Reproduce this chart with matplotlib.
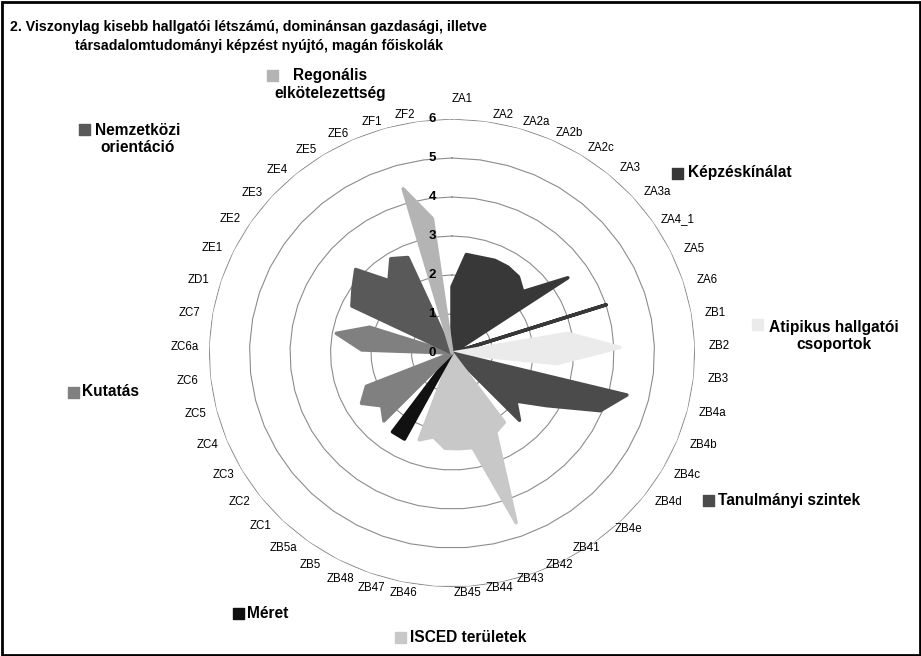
import numpy as np
import matplotlib
matplotlib.use("Agg")
import matplotlib.pyplot as plt
from matplotlib.patches import Rectangle

plt.rcParams['font.family'] = ['Liberation Sans', 'DejaVu Sans']

# ---------------- data ----------------
title_line1 = "2. Viszonylag kisebb hallgatói létszámú, dominánsan gazdasági, illetve"
title_line2 = "társadalomtudományi képzést nyújtó, magán főiskolák"

kepzes_cats = ['ZA1', 'ZA2', 'ZA2a', 'ZA2b', 'ZA2c', 'ZA3', 'ZA3a', 'ZA4_1', 'ZA5', 'ZA6']
kepzes_vals = [1.7, 2.55, 2.55, 2.6, 2.6, 2.55, 2.35, 3.45, 0.0, 4.0]

atip_cats = ['ZB1', 'ZB2', 'ZB3']
atip_vals = [2.9, 4.15, 2.6]

szint_cats = ['ZB4a', 'ZB4b', 'ZB4c', 'ZB4d', 'ZB4e']
szint_vals = [4.45, 3.95, 2.7, 2.0, 2.4]

isced_cats = ['ZB41', 'ZB42', 'ZB43', 'ZB44', 'ZB45', 'ZB46', 'ZB47', 'ZB48']
isced_vals = [2.2, 2.3, 4.63, 2.48, 2.46, 2.45, 2.2, 2.37]

meret_cats = ['ZB5', 'ZB5a']
meret_vals = [2.5, 2.5]

kutatas_cats = ['ZC1', 'ZC2', 'ZC3', 'ZC4', 'ZC5', 'ZC6', 'ZC6a', 'ZC7', 'ZD1']
kutatas_vals = [2.42, 2.2, 2.58, 2.28, 0.0, 0.0, 2.23, 2.9, 2.14]

nemzet_cats = ['ZE1', 'ZE2', 'ZE3', 'ZE4', 'ZE5', 'ZE6']
nemzet_vals = [2.75, 2.95, 3.2, 2.42, 2.85, 2.68]

reg_cats = ['ZF1', 'ZF2']
reg_vals = [4.38, 3.48]

series_names = ['Képzéskínálat', 'Atipikus hallgatói\ncsoportok', 'Tanulmányi szintek',
                'ISCED területek', 'Méret', 'Kutatás', 'Nemzetközi\norientáció',
                'Regonális\nelkötelezettség']
series_cats = [kepzes_cats, atip_cats, szint_cats, isced_cats, meret_cats,
               kutatas_cats, nemzet_cats, reg_cats]
series_vals = [kepzes_vals, atip_vals, szint_vals, isced_vals, meret_vals,
               kutatas_vals, nemzet_vals, reg_vals]
series_colors = ['#383838', '#ebebeb', '#4b4b4b', '#c8c8c8', '#111111',
                 '#808080', '#595959', '#b4b4b4']

ring_ticks = [0, 1, 2, 3, 4, 5, 6]

categories = [c for cats in series_cats for c in cats]
n = len(categories)

# ---------------- layout ----------------
W, H = 921, 656
fig = plt.figure(figsize=(W / 100, H / 100), dpi=100)
cx, cy, rx, ry = 452, 353, 243, 234
ax = fig.add_axes([(cx - rx) / W, (H - cy - ry) / H, 2 * rx / W, 2 * ry / H],
                  projection='polar')
ax.set_aspect('auto')
ax.set_theta_zero_location('N')
ax.set_theta_direction(-1)
ax.set_ylim(0, 6)
ax.set_xticks([])
ax.set_yticks([])
ax.grid(False)
ax.spines['polar'].set_visible(False)
ax.patch.set_visible(False)

theta = np.arange(n) * 2 * np.pi / n
theta_c = np.append(theta, theta[0])

# polygonal grid rings
for k in ring_ticks[1:]:
    ax.plot(theta_c, np.full(n + 1, k), color='#8c8c8c', lw=0.8, zorder=1)

# series
for cats, vals, col in zip(series_cats, series_vals, series_colors):
    full = np.zeros(n)
    for c, v in zip(cats, vals):
        full[categories.index(c)] = v
    ax.fill(theta_c, np.append(full, full[0]), facecolor=col, edgecolor=col,
            lw=2.5, joinstyle='round', zorder=2)

# ring value labels
for k in ring_ticks:
    ax.annotate(str(k), xy=(0, k), xytext=(-20 * 0.72, 0), textcoords='offset points',
                ha='center', va='center', fontsize=9.5, fontweight='bold', zorder=5)

# category label placement rule (angular nudge and radial distance, as in the original)
lab_ang = [0, 8, 24, 48, 80, 112, 128, 144, 160, 176, 184, 200, 216, 240, 272, 296, 320, 344, 352, 360]
lab_dlt = [2.2, 3.7, 3.2, 2.8, 1.0, -1.2, -2.4, 2.3, 1.6, 0.5, 7.0, 5.5, 3.8, 1.0, -0.6, -1.6,
           -2.6, -2.4, -2.8, 2.2]
lab_rad = [1.086, 1.038, 1.058, 1.089, 1.096, 1.105, 1.094, 1.0, 1.018, 1.028, 1.045, 1.07,
           1.085, 1.077, 1.099, 1.085, 1.063, 1.04, 1.035, 1.086]
for i, cat in enumerate(categories):
    deg = np.degrees(theta[i])
    d = np.interp(deg, lab_ang, lab_dlt)
    rn = np.interp(deg, lab_ang, lab_rad)
    ax.text(np.radians(deg + d), 6 * rn, cat, ha='center', va='center',
            fontsize=8.3, zorder=5)

# legend-like group labels placed around the chart (pixel positions)
leg_layout = {
    'Képzéskínálat': (677, 173, 'left', 688, 173),
    'Atipikus hallgatói\ncsoportok': (757, 324, 'center', 834, 336),
    'Tanulmányi szintek': (708, 500, 'left', 718, 500),
    'ISCED területek': (400, 637, 'left', 410, 637),
    'Méret': (238, 613, 'left', 247, 613),
    'Kutatás': (73, 392, 'left', 82, 392),
    'Nemzetközi\norientáció': (84, 129, 'center', 138, 139),
    'Regonális\nelkötelezettség': (272, 75, 'center', 330, 84.5),
}
for name, col in zip(series_names, series_colors):
    mx, my, ha, tx, ty = leg_layout[name]
    s = 11
    fig.add_artist(Rectangle(((mx - s / 2) / W, 1 - (my + s / 2) / H), s / W, s / H,
                             transform=fig.transFigure, facecolor=col, edgecolor=col,
                             lw=1, joinstyle='round'))
    fig.text(tx / W, 1 - ty / H, name, ha=ha, va='center', multialignment='center',
             fontsize=11.2, fontweight='bold', linespacing=1.2)

# title
fig.text(10 / W, 1 - 31.5 / H, title_line1, ha='left', va='baseline',
         fontsize=10.2, fontweight='bold')
fig.text(75 / W, 1 - 50 / H, title_line2, ha='left', va='baseline',
         fontsize=10.2, fontweight='bold')

# outer frame
fig.add_artist(Rectangle((1.5 / W, 1.5 / H), (W - 3) / W, (H - 3) / H,
                         transform=fig.transFigure, fill=False, edgecolor='black', lw=2))

fig.savefig('out.png', dpi=100)
